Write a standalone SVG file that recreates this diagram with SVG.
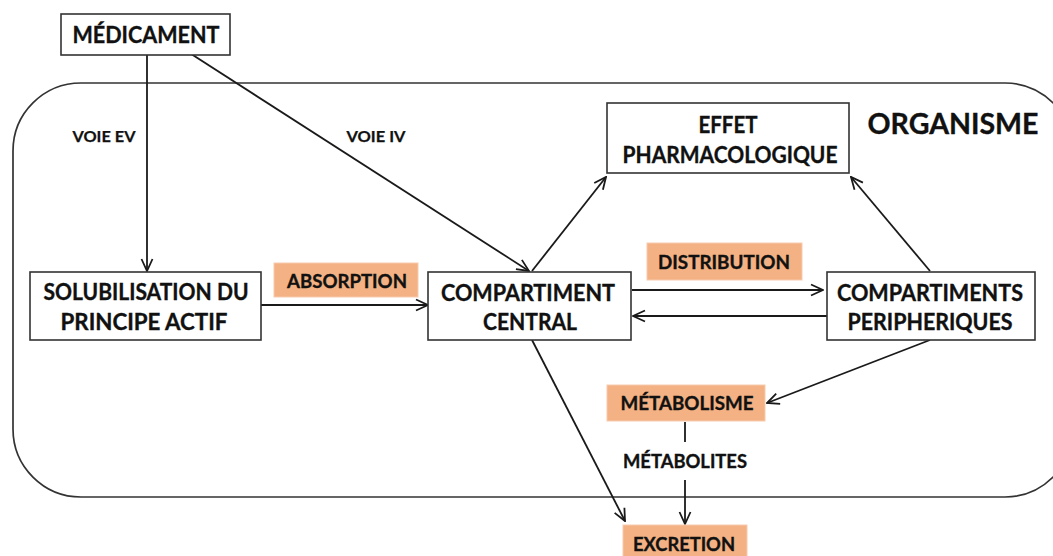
<svg xmlns="http://www.w3.org/2000/svg" width="1053" height="556" viewBox="0 0 1053 556">
<style>
.box{fill:#fff;stroke:#333;stroke-width:1.6}
.org{fill:none;stroke:#333;stroke-width:1.7}
.tag{fill:#F4B183;stroke:#F8CBAD;stroke-width:1}
.t{font-family:Lato,"Open Sans","Liberation Sans",sans-serif;font-weight:bold;fill:#111;stroke:#111;stroke-width:0.35;text-anchor:middle;dominant-baseline:central}
.big{font-size:23px}
.sm{font-size:18px}
.xs{font-size:15px;stroke-width:0.25}
.con line{stroke:#1a1a1a;stroke-width:1.8;fill:none}
</style>
<defs>
<marker id="ah" viewBox="0 0 14 14" refX="13" refY="7" markerWidth="14" markerHeight="14" markerUnits="userSpaceOnUse" orient="auto">
<polyline points="1,1.5 13,7 1,12.5" fill="none" stroke="#1a1a1a" stroke-width="1.8"/>
</marker>
</defs>
<rect class="org" x="13" y="83" width="1060" height="414" rx="68" ry="68"/>
<g id="organisme"><text class="t" x="953" y="122" style="font-size:29px" textLength="171" lengthAdjust="spacingAndGlyphs">ORGANISME</text></g>
<g class="con">
<line x1="147" y1="55" x2="147" y2="271" marker-end="url(#ah)"/>
<line x1="185" y1="50" x2="529" y2="271" marker-end="url(#ah)"/>
<line x1="261" y1="305" x2="428" y2="305" marker-end="url(#ah)"/>
<line x1="632" y1="290" x2="823" y2="290" marker-end="url(#ah)"/>
<line x1="827" y1="316" x2="633" y2="316" marker-end="url(#ah)"/>
<line x1="532" y1="271" x2="606" y2="177" marker-end="url(#ah)"/>
<line x1="930" y1="271" x2="851" y2="177" marker-end="url(#ah)"/>
<line x1="532" y1="340" x2="625" y2="521" marker-end="url(#ah)"/>
<line x1="930" y1="340" x2="767" y2="403" marker-end="url(#ah)"/>
<line x1="685" y1="422" x2="685" y2="442"/>
<line x1="685" y1="480" x2="685" y2="524" marker-end="url(#ah)"/>
</g>
<g id="voie-ev"><text class="t xs" x="104" y="136" textLength="63" lengthAdjust="spacingAndGlyphs">VOIE EV</text></g>
<g id="voie-iv"><text class="t xs" x="376" y="136" textLength="59" lengthAdjust="spacingAndGlyphs">VOIE IV</text></g>
<g id="medicament">
<rect class="box" x="61" y="14" width="169" height="41"/>
<text class="t big" x="146" y="34" textLength="147" lengthAdjust="spacingAndGlyphs">MÉDICAMENT</text>
</g>
<g id="solubilisation">
<rect class="box" x="30" y="272" width="231" height="68"/>
<text class="t big" x="146" y="291" textLength="205" lengthAdjust="spacingAndGlyphs">SOLUBILISATION DU</text>
<text class="t big" x="144" y="321" textLength="167" lengthAdjust="spacingAndGlyphs">PRINCIPE ACTIF</text>
</g>
<g id="absorption">
<rect class="tag" x="274" y="263" width="144" height="34"/>
<text class="t sm" x="347" y="281" textLength="120" lengthAdjust="spacingAndGlyphs">ABSORPTION</text>
</g>
<g id="compartiment-central">
<rect class="box" x="428" y="272" width="203" height="68"/>
<text class="t big" x="528" y="292" textLength="174" lengthAdjust="spacingAndGlyphs">COMPARTIMENT</text>
<text class="t big" x="530" y="321" textLength="94" lengthAdjust="spacingAndGlyphs">CENTRAL</text>
</g>
<g id="distribution">
<rect class="tag" x="647" y="243" width="155" height="37"/>
<text class="t sm" x="724" y="262" textLength="132" lengthAdjust="spacingAndGlyphs">DISTRIBUTION</text>
</g>
<g id="compartiments-peripheriques">
<rect class="box" x="827" y="272" width="208" height="68"/>
<text class="t big" x="930" y="292" textLength="186" lengthAdjust="spacingAndGlyphs">COMPARTIMENTS</text>
<text class="t big" x="930" y="321" textLength="165" lengthAdjust="spacingAndGlyphs">PERIPHERIQUES</text>
</g>
<g id="effet">
<rect class="box" x="607" y="103" width="242" height="70"/>
<text class="t big" x="728" y="124" textLength="59" lengthAdjust="spacingAndGlyphs">EFFET</text>
<text class="t big" x="730" y="154" textLength="215" lengthAdjust="spacingAndGlyphs">PHARMACOLOGIQUE</text>
</g>
<g id="metabolisme">
<rect class="tag" x="607" y="385" width="158" height="36"/>
<text class="t sm" x="687" y="403" textLength="133" lengthAdjust="spacingAndGlyphs">MÉTABOLISME</text>
</g>
<g id="metabolites"><text class="t sm" x="685" y="461" textLength="124" lengthAdjust="spacingAndGlyphs">MÉTABOLITES</text></g>
<g id="excretion">
<rect class="tag" x="623" y="525" width="124" height="36"/>
<text class="t sm" x="684" y="544" textLength="102" lengthAdjust="spacingAndGlyphs">EXCRETION</text>
</g>
</svg>
